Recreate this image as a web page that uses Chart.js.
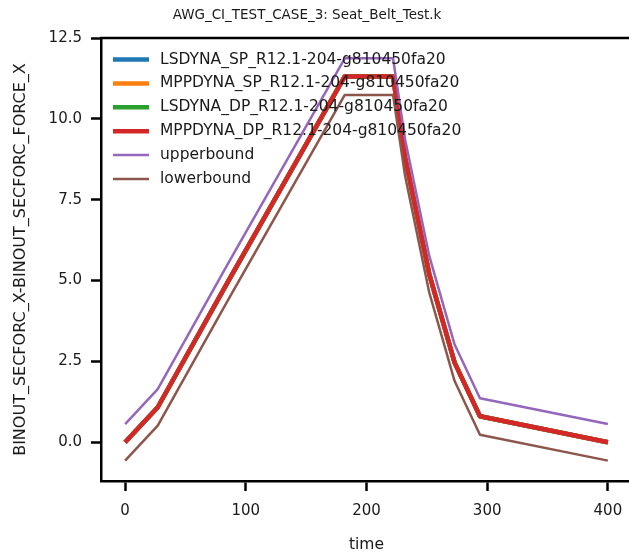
<!DOCTYPE html>
<html>
<head>
<meta charset="utf-8">
<script src="https://cdn.jsdelivr.net/npm/chart.js@4.4.1/dist/chart.umd.min.js"></script>
<style>
  html, body { margin: 0; padding: 0; background: #fff; overflow: hidden; }
  #wrap { width: 646px; height: 554px; }
</style>
</head>
<body>
<div id="wrap"><canvas id="forceChart"></canvas></div>
<script>
// 데이터
const chartTitle = 'AWG_CI_TEST_CASE_3: Seat_Belt_Test.k';
const xTitle = 'time';
const yTitle = 'BINOUT_SECFORC_X-BINOUT_SECFORC_FORCE_X';

const times = [0, 27, 85, 182, 222, 232, 252, 273, 294, 400];
const lsdynaSp  = [0, 1.08, 4.95, 11.31, 11.31, 8.8, 5.2, 2.46, 0.8, 0];
const mppdynaSp = [0, 1.08, 4.95, 11.31, 11.31, 8.8, 5.2, 2.46, 0.8, 0];
const lsdynaDp  = [0, 1.08, 4.95, 11.31, 11.31, 8.8, 5.2, 2.46, 0.8, 0];
const mppdynaDp = [0, 1.08, 4.95, 11.31, 11.31, 8.8, 5.2, 2.46, 0.8, 0];
const upperbound = [0.56, 1.64, 5.51, 11.87, 11.87, 9.36, 5.76, 3.02, 1.36, 0.56];
const lowerbound = [-0.57, 0.51, 4.38, 10.74, 10.74, 8.23, 4.63, 1.89, 0.23, -0.57];

const seriesNames = [
  'LSDYNA_SP_R12.1-204-g810450fa20',
  'MPPDYNA_SP_R12.1-204-g810450fa20',
  'LSDYNA_DP_R12.1-204-g810450fa20',
  'MPPDYNA_DP_R12.1-204-g810450fa20',
  'upperbound',
  'lowerbound'
];
const seriesValues = [lsdynaSp, mppdynaSp, lsdynaDp, mppdynaDp, upperbound, lowerbound];
const seriesColors = ['#1f77b4', '#ff7f0e', '#2ca02c', '#d62728', '#9467bd', '#8c564b'];
const seriesWidths = [4.5, 4.5, 4.5, 4.5, 2.5, 2.5];

const FONT = 'DejaVu Sans';
const TEXT = '#1a1a1a';

function toPoints(values) {
  return values.map((v, i) => ({ x: times[i], y: v }));
}

const datasets = seriesValues.map((vals, i) => ({
  label: seriesNames[i],
  data: toPoints(vals),
  borderColor: seriesColors[i],
  backgroundColor: seriesColors[i],
  borderWidth: seriesWidths[i],
  pointRadius: 0,
  tension: 0,
  borderJoinStyle: 'round',
  order: seriesNames.length - i
}));

// 제목, 위쪽 축선, 범례를 그리는 플러그인
const decorPlugin = {
  id: 'decor',
  afterDraw(chart) {
    const ctx = chart.ctx;
    const area = chart.chartArea;
    ctx.save();
    ctx.strokeStyle = '#000';
    ctx.lineWidth = 2.5;
    ctx.beginPath();
    ctx.moveTo(area.left - 1, area.top);
    ctx.lineTo(area.right + 10, area.top);
    ctx.stroke();

    ctx.fillStyle = TEXT;
    ctx.font = '13.5px "' + FONT + '"';
    ctx.textAlign = 'center';
    ctx.textBaseline = 'middle';
    ctx.fillText(chartTitle, 307, 15);

    // 범례
    ctx.font = '15.5px "' + FONT + '"';
    ctx.textAlign = 'left';
    chart.data.datasets.forEach((ds, i) => {
      const y = 59.5 + i * 23.9;
      ctx.strokeStyle = ds.borderColor;
      ctx.lineWidth = ds.borderWidth;
      ctx.lineCap = 'butt';
      ctx.beginPath();
      ctx.moveTo(area.left + 12, y);
      ctx.lineTo(area.left + 48, y);
      ctx.stroke();
      ctx.fillStyle = TEXT;
      ctx.fillText(ds.label, area.left + 59, y);
    });
    ctx.restore();
  }
};

const ctx = document.getElementById('forceChart');
new Chart(ctx, {
  type: 'line',
  data: { datasets: datasets },
  plugins: [decorPlugin],
  options: {
    responsive: true,
    maintainAspectRatio: false,
    animation: false,
    layout: { padding: { top: 38, right: 14, left: 0, bottom: 0 } },
    plugins: {
      legend: { display: false },
      tooltip: { enabled: false },
      title: { display: false }
    },
    scales: {
      x: {
        type: 'linear',
        min: -20,
        max: 420,
        afterFit: (scale) => { scale.height = 73; },
        ticks: {
          stepSize: 100,
          includeBounds: false,
          padding: 11,
          color: TEXT,
          font: { family: FONT, size: 15 },
          maxRotation: 0,
          callback: (v) => String(v)
        },
        grid: {
          display: true,
          drawOnChartArea: false,
          drawTicks: true,
          tickLength: 10,
          tickWidth: 2.5,
          tickColor: '#000'
        },
        border: { display: true, color: '#000', width: 2.5 },
        title: {
          display: true,
          text: xTitle,
          color: TEXT,
          font: { family: FONT, size: 15.5 },
          padding: { top: 3, bottom: 0 }
        }
      },
      y: {
        min: -1.2,
        max: 12.5,
        afterFit: (scale) => { scale.width = 101; },
        ticks: {
          stepSize: 2.5,
          includeBounds: false,
          padding: 9,
          color: TEXT,
          font: { family: FONT, size: 15 },
          callback: (v) => Number(v).toFixed(1)
        },
        grid: {
          display: true,
          drawOnChartArea: false,
          drawTicks: true,
          tickLength: 10,
          tickWidth: 2.5,
          tickColor: '#000'
        },
        border: { display: true, color: '#000', width: 2.5 },
        title: {
          display: true,
          text: yTitle,
          color: TEXT,
          font: { family: FONT, size: 16 },
          padding: { top: 11, bottom: 0 }
        }
      }
    }
  }
});
</script>
</body>
</html>
